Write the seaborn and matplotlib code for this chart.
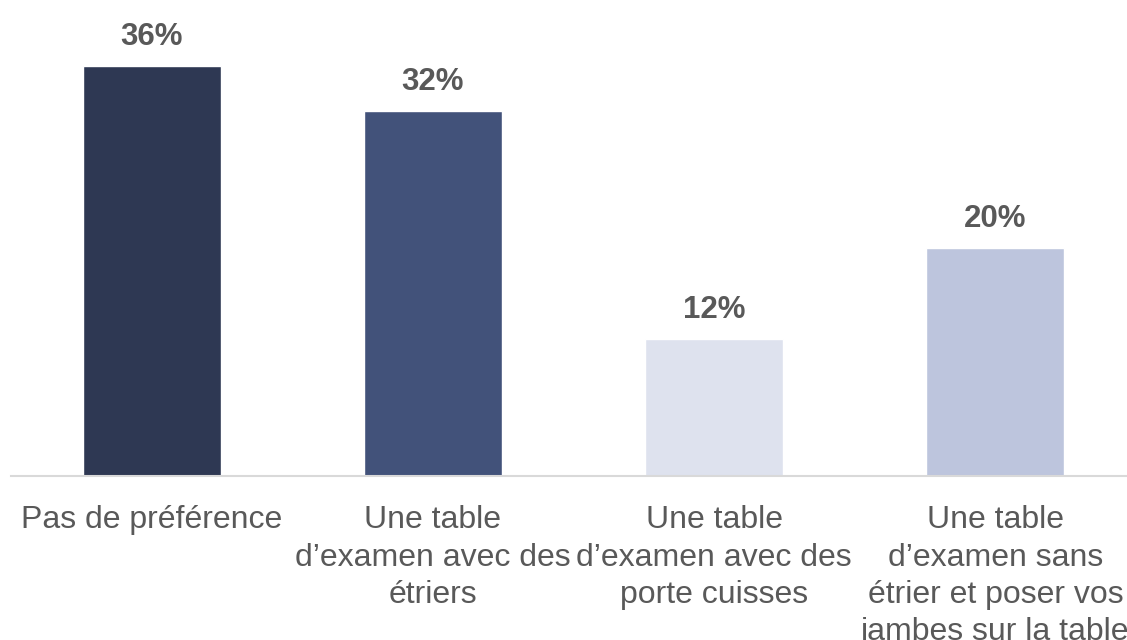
import numpy as np
import pandas as pd
import seaborn as sns
import matplotlib.pyplot as plt

sns.set_style('white')
plt.rcParams['font.family'] = ['Liberation Sans', 'DejaVu Sans']

# Data
categories = [
    'Pas de préférence',
    'Une table\nd’examen avec des\nétriers',
    'Une table\nd’examen avec des\nporte cuisses',
    'Une table\nd’examen sans\nétrier et poser vos\njambes sur la table',
]
values = [36, 32, 12, 20]
bar_colors = ['#2E3853', '#42527A', '#DEE2EE', '#BDC5DD']

df = pd.DataFrame({'categorie': categories, 'pct': values})

fig = plt.figure(figsize=(11.27, 6.4), dpi=100)
ax = fig.add_axes([11 / 1127, 164 / 640, 1125 / 1127, 456 / 640])

sns.barplot(data=df, x='categorie', y='pct', hue='categorie',
            palette=bar_colors, width=0.49, legend=False, ax=ax,
            saturation=1)

ax.set_xlim(-0.5, 3.5)
ax.set_ylim(0, 40)

for cont in ax.containers:
    ax.bar_label(cont, fmt='%d%%', padding=10, fontsize=22.5,
                 fontweight='bold', color='#595959')

ax.set_xlabel('')
ax.set_ylabel('')
ax.set_yticks([])
ax.tick_params(axis='x', length=0, pad=21, labelsize=23, labelcolor='#595959')
for lab in ax.get_xticklabels():
    lab.set_multialignment('center')
    lab.set_linespacing(1.32)

for side in ['top', 'left', 'right']:
    ax.spines[side].set_visible(False)
ax.spines['bottom'].set_color('#D9D9D9')
ax.spines['bottom'].set_linewidth(1.5)

fig.savefig('out.png', dpi=100)
